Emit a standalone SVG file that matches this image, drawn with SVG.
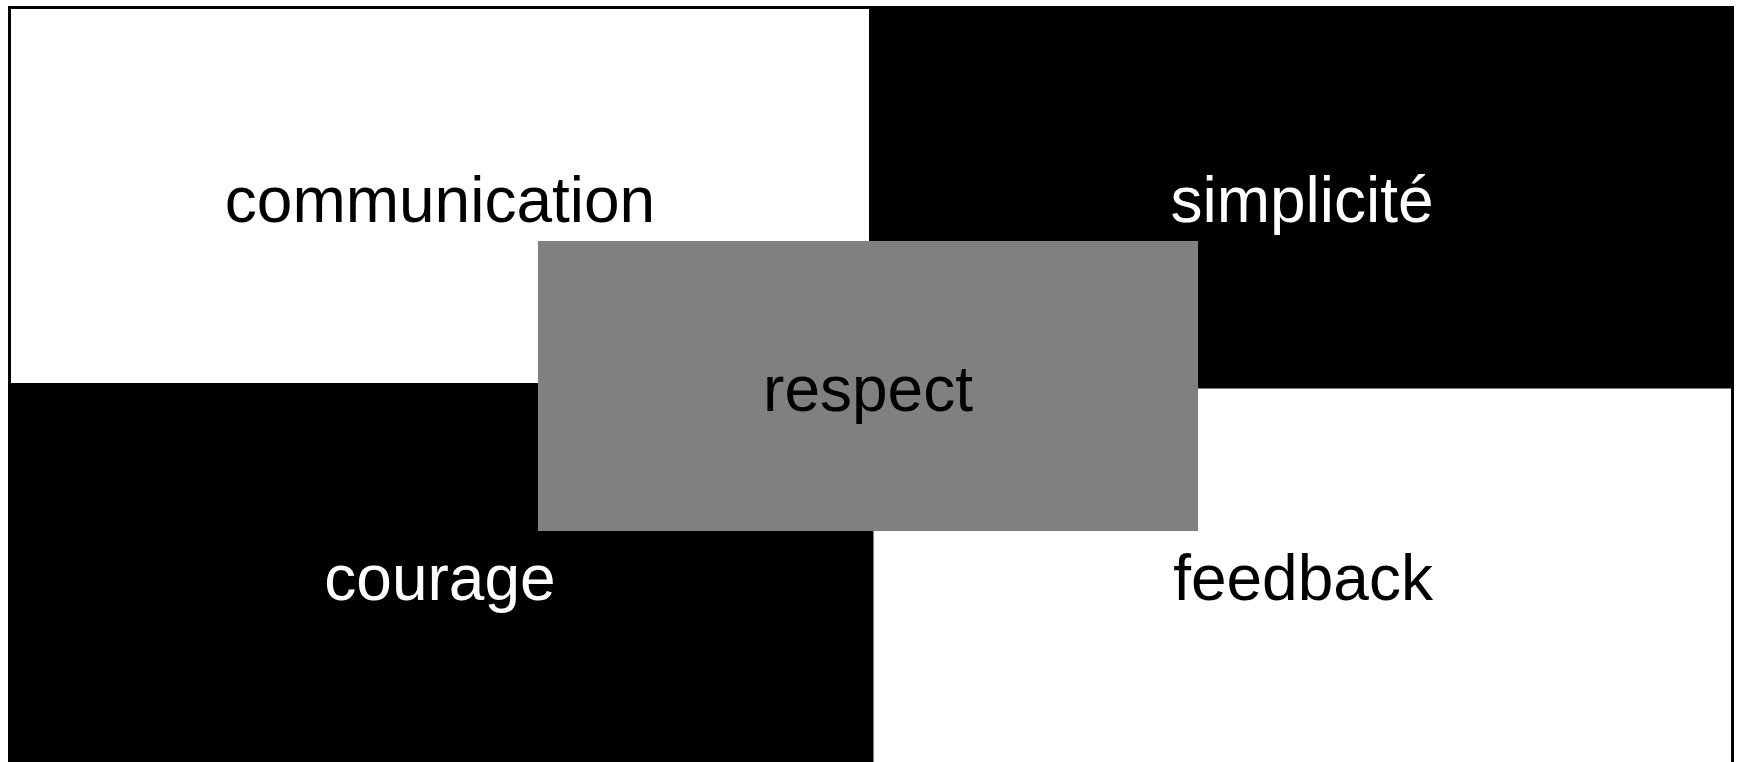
<svg xmlns="http://www.w3.org/2000/svg" width="1739" height="762" viewBox="0 0 1739 762">
  <style>
    .lbl { font-family: "Liberation Sans", Arial, sans-serif; font-size: 64px; text-anchor: middle; }
    .dark { fill: #000; }
    .light { fill: #fff; }
    .on-light { fill: #000; }
    .on-dark { fill: #fff; }
  </style>
  <rect width="1739" height="762" fill="#fff"/>
  <g id="communication">
    <rect x="9.5" y="7.5" width="861" height="377" class="light" stroke="#000" stroke-width="3"/>
    <text x="440" y="222" class="lbl on-light">communication</text>
  </g>
  <g id="simplicite">
    <rect x="870" y="6" width="864" height="381" class="dark"/>
    <text x="1302" y="222" class="lbl on-dark">simplicité</text>
  </g>
  <g id="courage">
    <rect x="8" y="384" width="864" height="378" class="dark"/>
    <text x="440" y="600" class="lbl on-dark">courage</text>
  </g>
  <g id="feedback">
    <rect x="872" y="387" width="860.5" height="380" class="light" stroke="#000" stroke-width="3"/>
    <text x="1303" y="600" class="lbl on-light">feedback</text>
  </g>
  <g id="respect">
    <rect x="538" y="241" width="660" height="290" fill="#808080"/>
    <text x="868" y="411" class="lbl on-light">respect</text>
  </g>
  <g id="connectors"/>
</svg>
